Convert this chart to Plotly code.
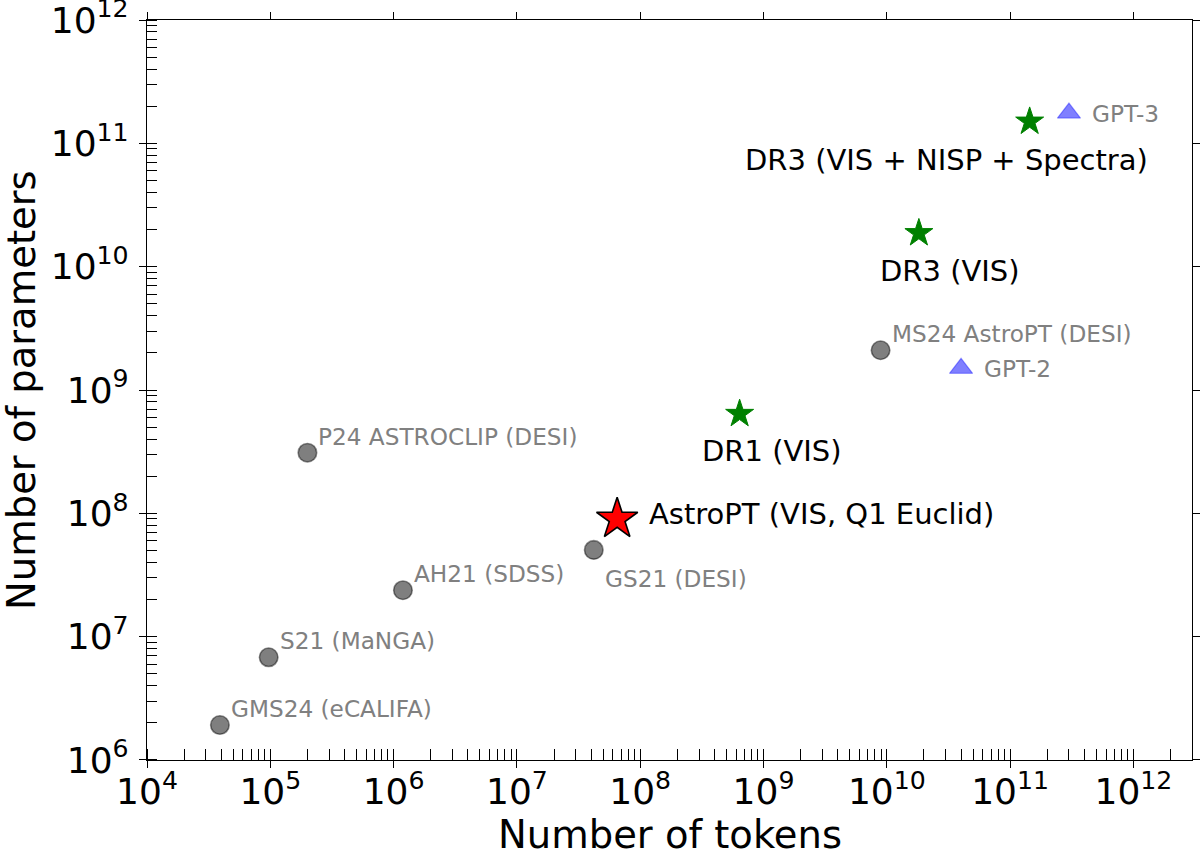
import numpy as np
import plotly.graph_objects as go

# ---- data ----
gray_names = ["GMS24 (eCALIFA)", "S21 (MaNGA)", "P24 ASTROCLIP (DESI)", "AH21 (SDSS)",
              "GS21 (DESI)", "MS24 AstroPT (DESI)"]
gray_tokens = [3.9e4, 9.7e4, 2.0e5, 1.19e6, 4.2e7, 8.9e9]
gray_params = [1.92e6, 6.8e6, 3.1e8, 2.38e7, 5.05e7, 2.1e9]

gpt_names = ["GPT-2", "GPT-3"]
gpt_tokens = [4.0e10, 3.0e11]
gpt_params = [1.5e9, 1.76e11]

euclid_names = ["DR1 (VIS)", "DR3 (VIS)", "DR3 (VIS + NISP + Spectra)"]
euclid_tokens = [6.4e8, 1.82e10, 1.44e11]
euclid_params = [6.4e8, 1.87e10, 1.5e11]

astropt_name = "AstroPT (VIS, Q1 Euclid)"
astropt_tokens = [6.5e7]
astropt_params = [9.0e7]

x_tick_exp = list(range(4, 13))
y_tick_exp = list(range(6, 13))

FONT = "DejaVu Sans"

fig = go.Figure()

fig.add_trace(go.Scatter(
    x=gray_tokens, y=gray_params, mode="markers",
    marker=dict(symbol="circle", size=18.5, color="rgba(0,0,0,0.5)",
                line=dict(color="rgba(0,0,0,0.45)", width=1.6)),
    showlegend=False, hoverinfo="skip"))

fig.add_trace(go.Scatter(
    x=gpt_tokens, y=gpt_params, mode="markers",
    marker=dict(symbol="triangle-up", size=20, color="rgba(0,0,255,0.5)",
                line=dict(color="rgba(0,0,255,0.35)", width=1.2)),
    showlegend=False, hoverinfo="skip"))

fig.add_trace(go.Scatter(
    x=euclid_tokens, y=euclid_params, mode="markers",
    marker=dict(symbol="star", size=21, color="green",
                line=dict(color="green", width=1)),
    showlegend=False, hoverinfo="skip"))

fig.add_trace(go.Scatter(
    x=astropt_tokens, y=astropt_params, mode="markers",
    marker=dict(symbol="star", size=31, color="red",
                line=dict(color="black", width=1.6)),
    showlegend=False, hoverinfo="skip"))

# dummy trace for mirrored top/right axes
fig.add_trace(go.Scatter(x=[1e5], y=[1e7], xaxis="x2", yaxis="y2", mode="markers",
                         marker=dict(opacity=0), showlegend=False, hoverinfo="skip"))

annotations = []
gray_font = dict(family=FONT, size=23.2, color="gray")
black_font = dict(family=FONT, size=29, color="black")

for name, xv, yv in zip(gray_names, gray_tokens, gray_params):
    if name.startswith("GS21"):
        xs, ys = 9, -29
    else:
        xs, ys = 9, 16.5
    annotations.append(dict(x=np.log10(xv), y=np.log10(yv), xref="x", yref="y", text=name,
                            showarrow=False, xanchor="left", yanchor="middle",
                            xshift=xs, yshift=ys, font=gray_font))

for name, xv, yv in zip(gpt_names, gpt_tokens, gpt_params):
    annotations.append(dict(x=np.log10(xv), y=np.log10(yv), xref="x", yref="y", text=name,
                            showarrow=False, xanchor="left", yanchor="middle",
                            xshift=21, yshift=0, font=gray_font))

euclid_shifts = [(32, -37), (31, -38), (-83, -38)]
for name, xv, yv, (xs, ys) in zip(euclid_names, euclid_tokens, euclid_params, euclid_shifts):
    annotations.append(dict(x=np.log10(xv), y=np.log10(yv), xref="x", yref="y", text=name,
                            showarrow=False, xanchor="center", yanchor="middle",
                            xshift=xs, yshift=ys, font=black_font))

annotations.append(dict(x=np.log10(astropt_tokens[0]), y=np.log10(astropt_params[0]),
                        xref="x", yref="y", text=astropt_name, showarrow=False,
                        xanchor="left", yanchor="middle", xshift=30, yshift=5,
                        font=black_font))

# axis titles
annotations.append(dict(x=0.5, y=0, xref="paper", yref="paper", text="Number of tokens",
                        showarrow=False, xanchor="center", yanchor="middle", yshift=-74,
                        font=dict(family=FONT, size=38.5, color="black")))
annotations.append(dict(x=0, y=0.5, xref="paper", yref="paper", text="Number of parameters",
                        showarrow=False, xanchor="center", yanchor="middle", xshift=-126,
                        textangle=-90, font=dict(family=FONT, size=38.5, color="black")))

xtv = [10.0 ** e for e in x_tick_exp]
xtt = ["10<sup>%d</sup>" % e for e in x_tick_exp]
ytv = [10.0 ** e for e in y_tick_exp]
ytt = ["10<sup>%d</sup>" % e for e in y_tick_exp]

axis_common = dict(type="log", showgrid=False, zeroline=False, ticks="outside",
                   ticklen=7, tickwidth=1.3, tickcolor="black", automargin=False)

XR = [4 - 1e-4, 12.475]
YR = [6 - 1e-4, 12 + 1e-4]

fig.update_layout(
    width=1200, height=853,
    margin=dict(l=147, r=8, t=20, b=93, autoexpand=False),
    paper_bgcolor="white", plot_bgcolor="white",
    font=dict(family=FONT, color="black"),
    annotations=annotations,
    xaxis=dict(**axis_common, range=XR, tickvals=xtv, ticktext=xtt,
               tickfont=dict(family=FONT, size=36, color="black"),
               ticklabelstandoff=-7, ticklabeloverflow="allow",
               showline=True, linecolor="black", linewidth=1.3, mirror=True,
               minor=dict(ticks="inside", ticklen=11, tickwidth=1.3, tickcolor="black",
                          dtick="D1", showgrid=False)),
    yaxis=dict(**axis_common, range=YR, tickvals=ytv, ticktext=ytt,
               tickfont=dict(family=FONT, size=36, color="black"),
               ticklabelstandoff=3, ticklabeloverflow="allow",
               showline=True, linecolor="black", linewidth=1.3, mirror=True,
               minor=dict(ticks="inside", ticklen=10, tickwidth=1.3, tickcolor="black",
                          dtick="D1", showgrid=False)),
    xaxis2=dict(**axis_common, range=XR, tickvals=xtv, showticklabels=False,
                overlaying="x", side="top", anchor="y2", showline=False),
    yaxis2=dict(**axis_common, range=YR, tickvals=ytv, showticklabels=False,
                overlaying="y", side="right", anchor="x2", showline=False),
)

fig.write_html("out.html")
